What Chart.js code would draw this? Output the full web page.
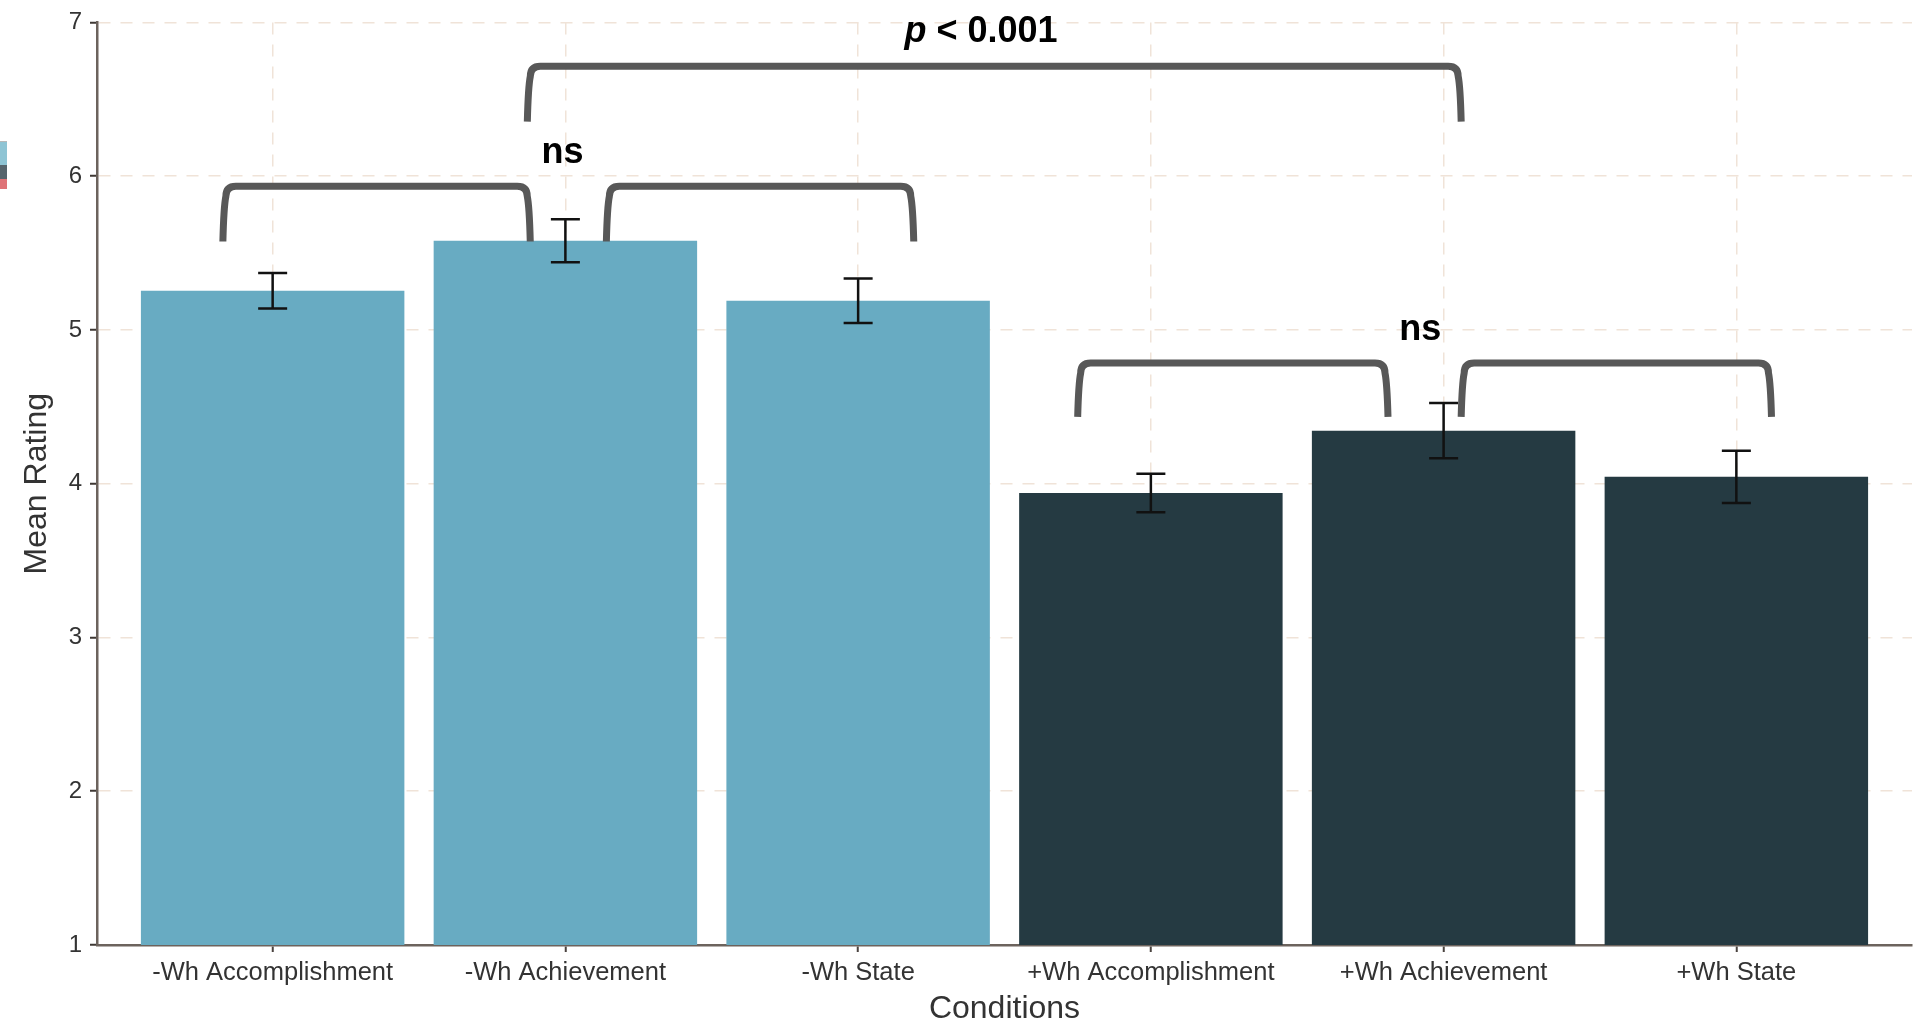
<!DOCTYPE html>
<html>
<head>
<meta charset="utf-8">
<script src="https://cdn.jsdelivr.net/npm/chart.js@4.4.1/dist/chart.umd.min.js"></script>
<style>
  html, body { margin: 0; padding: 0; background: #ffffff; }
  canvas { display: block; }
</style>
</head>
<body>
<canvas id="chart" width="1913" height="1025"></canvas>
<script>
// ---- data ----
const categories = ['-Wh Accomplishment', '-Wh Achievement', '-Wh State',
                    '+Wh Accomplishment', '+Wh Achievement', '+Wh State'];
const meanRating = [5.255, 5.58, 5.19, 3.94, 4.345, 4.045];
const stdError   = [0.115, 0.14, 0.145, 0.125, 0.18, 0.17];
const whGroup    = ['-Wh', '-Wh', '-Wh', '+Wh', '+Wh', '+Wh'];
const yTicks     = [1, 2, 3, 4, 5, 6, 7];

// significance brackets (x in category units, y in rating units)
const brackets = [
  { from: 1.87, to: 5.06, top: 6.715, foot: 6.355 },
  { from: 0.83, to: 1.88, top: 5.935, foot: 5.575 },
  { from: 2.14, to: 3.19, top: 5.935, foot: 5.575 },
  { from: 3.75, to: 4.81, top: 4.785, foot: 4.435 },
  { from: 5.06, to: 6.12, top: 4.785, foot: 4.435 }
];
const sigLabels = [
  { parts: [['p', true], [' < 0.001', false]], x: 3.42, y: 6.935 },
  { parts: [['ns', false]], x: 1.99, y: 6.15 },
  { parts: [['ns', false]], x: 4.92, y: 5.00 }
];

// ---- style ----
const FONT = "'Liberation Sans', Arial, Helvetica, sans-serif";
const groupColors = { '-Wh': '#68abc2', '+Wh': '#253a42' };
const gridColor = '#f0e3d8';
const axisColor = '#6c635d';

const annotate = {
  id: 'annotate',
  afterDatasetsDraw(chart) {
    const { ctx, scales: { x, y } } = chart;
    ctx.save();

    // error bars
    ctx.strokeStyle = '#111111';
    ctx.lineWidth = 2.5;
    const cap = 14.5;
    meanRating.forEach((m, i) => {
      const px = x.getPixelForValue(i + 1);
      const hi = y.getPixelForValue(m + stdError[i]);
      const lo = y.getPixelForValue(m - stdError[i]);
      ctx.beginPath();
      ctx.moveTo(px, hi); ctx.lineTo(px, lo);
      ctx.moveTo(px - cap, hi); ctx.lineTo(px + cap, hi);
      ctx.moveTo(px - cap, lo); ctx.lineTo(px + cap, lo);
      ctx.stroke();
    });

    // brackets
    ctx.strokeStyle = '#585858';
    ctx.lineWidth = 7;
    ctx.lineJoin = 'round';
    ctx.lineCap = 'butt';
    brackets.forEach(b => {
      const x1 = x.getPixelForValue(b.from), x2 = x.getPixelForValue(b.to);
      const yt = y.getPixelForValue(b.top), yb = y.getPixelForValue(b.foot);
      const r = 10, s = 3;
      ctx.beginPath();
      ctx.moveTo(x1, yb);
      ctx.quadraticCurveTo(x1 + s * 0.3, yt + r * 2, x1 + s, yt + r);
      ctx.quadraticCurveTo(x1 + s, yt, x1 + s + r, yt);
      ctx.lineTo(x2 - s - r, yt);
      ctx.quadraticCurveTo(x2 - s, yt, x2 - s, yt + r);
      ctx.quadraticCurveTo(x2 - s * 0.3, yt + r * 2, x2, yb);
      ctx.stroke();
    });

    // bracket labels
    ctx.fillStyle = '#000000';
    ctx.textBaseline = 'middle';
    ctx.textAlign = 'left';
    sigLabels.forEach(l => {
      const fonts = l.parts.map(p => (p[1] ? 'italic ' : '') + 'bold 36px ' + FONT);
      let total = 0;
      const widths = l.parts.map((p, i) => { ctx.font = fonts[i]; const w = ctx.measureText(p[0]).width; total += w; return w; });
      let cx = x.getPixelForValue(l.x) - total / 2;
      const cy = y.getPixelForValue(l.y);
      l.parts.forEach((p, i) => { ctx.font = fonts[i]; ctx.fillText(p[0], cx, cy); cx += widths[i]; });
    });
    ctx.restore();
  },
  afterDraw(chart) {
    // clipped colour key at the left edge
    const ctx = chart.ctx;
    ctx.save();
    ctx.fillStyle = '#b8b8b8'; ctx.fillRect(0, 141, 7, 1);
    ctx.fillStyle = '#8ec4d4'; ctx.fillRect(0, 142, 7, 23);
    ctx.fillStyle = '#56646c'; ctx.fillRect(0, 165, 7, 14);
    ctx.fillStyle = '#df7377'; ctx.fillRect(0, 179, 7, 10);
    ctx.restore();
  }
};

new Chart(document.getElementById('chart'), {
  type: 'bar',
  data: {
    datasets: [{
      data: categories.map((c, i) => ({ x: i + 1, y: meanRating[i] })),
      backgroundColor: whGroup.map(g => groupColors[g]),
      borderWidth: 0,
      barPercentage: 0.9,
      categoryPercentage: 1
    }]
  },
  options: {
    responsive: false,
    animation: false,
    devicePixelRatio: 1,
    layout: { padding: { top: 18, right: 1, left: 0, bottom: 0 } },
    plugins: { legend: { display: false }, tooltip: { enabled: false } },
    scales: {
      x: {
        type: 'linear',
        min: 0.4, max: 6.6,
        bounds: 'data',
        offset: false,
        afterBuildTicks: s => { s.ticks = categories.map((c, i) => ({ value: i + 1 })); },
        afterFit: s => { s.height = 80; },
        ticks: {
          autoSkip: false, maxRotation: 0, minRotation: 0, padding: 6,
          color: '#333333', font: { size: 25.5, family: FONT },
          callback: v => categories[Math.round(v) - 1]
        },
        grid: { offset: false, color: gridColor, lineWidth: 1.5, tickLength: 7, tickColor: '#4a433f', tickWidth: 2 },
        border: { color: axisColor, width: 2.5, dash: [12, 10] },
        title: {
          display: true, text: 'Conditions', color: '#333333',
          font: { size: 32, family: FONT, lineHeight: 1.0 }, padding: { top: 0, bottom: 0 }
        }
      },
      y: {
        min: 1, max: 7,
        bounds: 'data',
        afterBuildTicks: s => { s.ticks = yTicks.map(v => ({ value: v })); },
        afterFit: s => { s.width = 97; },
        ticks: { padding: 8, color: '#333333', font: { size: 24, family: FONT } },
        grid: { color: gridColor, lineWidth: 1.5, tickLength: 7, tickColor: '#3f3935', tickWidth: 2 },
        border: { color: axisColor, width: 2.5, dash: [12, 10] },
        title: {
          display: true, text: 'Mean Rating', color: '#333333',
          font: { size: 32, family: FONT, lineHeight: 1.2 }, padding: { top: 18, bottom: 0 }
        }
      }
    }
  },
  plugins: [annotate]
});
</script>
</body>
</html>
